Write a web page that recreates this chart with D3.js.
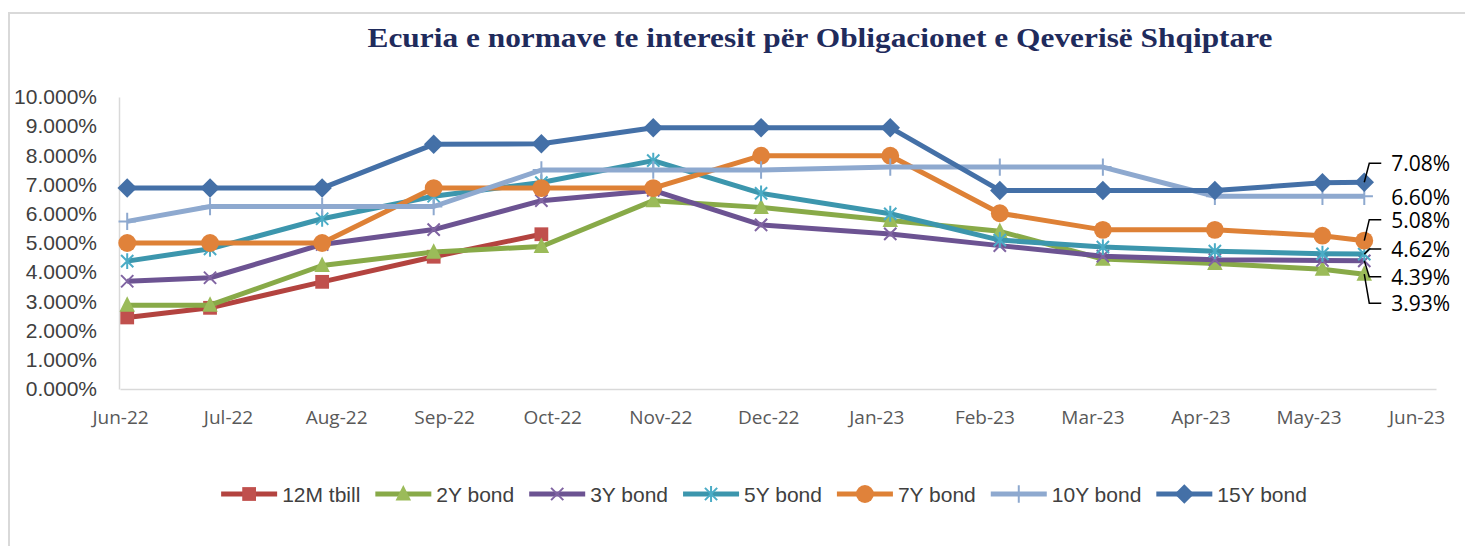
<!DOCTYPE html>
<html>
<head>
<meta charset="utf-8">
<script src="https://cdn.jsdelivr.net/npm/d3@7"></script>
<style>
  body { margin: 0; background: #fff; }
  svg { display: block; }
</style>
</head>
<body>
<script>
// Chart values (percent)
const months = ['Jun-22', 'Jul-22', 'Aug-22', 'Sep-22', 'Oct-22', 'Nov-22', 'Dec-22',
    'Jan-23', 'Feb-23', 'Mar-23', 'Apr-23', 'May-23', 'Jun-23']
const dates = ['2022-06-03', '2022-06-26', '2022-07-28', '2022-08-29', '2022-09-28', '2022-10-30',
    '2022-11-29', '2023-01-05', '2023-02-05', '2023-03-04', '2023-04-05', '2023-05-05', '2023-05-17']
const tbill12m = [2.45, 2.78, 3.67, 4.53, 5.30]
const bond2y = [2.87, 2.87, 4.23, 4.69, 4.88, 6.45, 6.22, 5.77, 5.40, 4.45, 4.30, 4.10, 3.93]
const bond3y = [3.69, 3.81, 4.95, 5.46, 6.45, 6.80, 5.62, 5.31, 4.91, 4.55, 4.43, 4.40, 4.39]
const bond5y = [4.38, 4.80, 5.83, 6.60, 7.07, 7.82, 6.70, 6.00, 5.10, 4.86, 4.72, 4.63, 4.62]
const bond7y = [5.00, 5.00, 5.00, 6.88, 6.88, 6.88, 7.99, 7.99, 6.02, 5.45, 5.45, 5.25, 5.08]
const bond10y = [5.74, 6.25, 6.25, 6.25, 7.50, 7.50, 7.50, 7.60, 7.60, 7.60, 6.60, 6.60, 6.60]
const bond15y = [6.88, 6.88, 6.88, 8.38, 8.40, 8.95, 8.95, 8.95, 6.80, 6.80, 6.80, 7.06, 7.08]
const seriesNames = ['12M tbill', '2Y bond', '3Y bond', '5Y bond', '7Y bond', '10Y bond', '15Y bond']
const yTicks = [0, 0.01, 0.02, 0.03, 0.04, 0.05, 0.06, 0.07, 0.08, 0.09, 0.10]

const title = 'Ecuria e normave te interesit për Obligacionet e Qeverisë Shqiptare'

// custom marker shapes for d3.symbol
const symDiamond = { draw(c, s) { const r = Math.sqrt(s) / 2; c.moveTo(0, -r); c.lineTo(r, 0); c.lineTo(0, r); c.lineTo(-r, 0); c.closePath() } }
const symTriangle = { draw(c, s) { const r = Math.sqrt(s) / 2; c.moveTo(0, -r * 1.15); c.lineTo(r, r * 0.85); c.lineTo(-r, r * 0.85); c.closePath() } }
const symX = { draw(c, s) { const r = Math.sqrt(s) / 2; c.moveTo(-r, -r); c.lineTo(r, r); c.moveTo(-r, r); c.lineTo(r, -r) } }
const symStar = { draw(c, s) { const r = Math.sqrt(s) / 2; c.moveTo(-r, -r); c.lineTo(r, r); c.moveTo(-r, r); c.lineTo(r, -r); c.moveTo(0, -r * 1.3); c.lineTo(0, r * 1.3) } }
const symPlus = { draw(c, s) { const r = Math.sqrt(s) / 2; c.moveTo(0, -r); c.lineTo(0, r); c.moveTo(-r, 0); c.lineTo(r, 0) } }

// styles per series, same order as seriesNames
const styles = [
    { line: '#b3433f', mark: '#c0504d', type: d3.symbolSquare, size: 190, fill: true },
    { line: '#88aa48', mark: '#9bbb59', type: symTriangle, size: 240, fill: true },
    { line: '#6c5392', mark: '#8064a2', type: symX, size: 150, fill: false },
    { line: '#3c96ad', mark: '#4bacc6', type: symStar, size: 150, fill: false },
    { line: '#de8136', mark: '#e0823a', type: d3.symbolCircle, size: 250, fill: true },
    { line: '#8ea9cf', mark: '#8ea9cf', type: symPlus, size: 300, fill: false },
    { line: '#4470a7', mark: '#4470a7', type: symDiamond, size: 380, fill: true }
]
// data label offsets (px) for the last point: [series index, dy, leader?]
const labelLayout = [[6, -19, true], [5, 1, false], [4, -21, true], [3, -5, true], [2, 16, true], [1, 29, true]]

const allValues = [tbill12m, bond2y, bond3y, bond5y, bond7y, bond10y, bond15y]

// fractional month position since Jun-22
const parse = d3.timeParse('%Y-%m-%d')
const start = new Date(2022, 5, 1)
function monthPos(s) {
    const d = parse(s)
    const m = d3.timeMonth.floor(d)
    const next = d3.timeMonth.offset(m, 1)
    return d3.timeMonth.count(start, m) + (d - m) / (next - m)
}

const series = seriesNames.map((name, i) => ({
    name,
    style: styles[i],
    points: allValues[i].map((v, j) => ({ x: monthPos(dates[j]), v: v / 100 }))
}))

const svg = d3.select('body').append('svg')
    .attr('width', 1465)
    .attr('height', 546)

svg.append('rect')
    .attr('x', 9).attr('y', 13)
    .attr('width', 1480).attr('height', 560)
    .attr('fill', 'none')
    .attr('stroke', '#d9d9d9')
    .attr('stroke-width', 2)

svg.append('text')
    .attr('x', 820).attr('y', 38)
    .attr('text-anchor', 'middle')
    .attr('dominant-baseline', 'central')
    .attr('textLength', 905)
    .attr('lengthAdjust', 'spacingAndGlyphs')
    .style('font-family', '"Liberation Serif", serif')
    .style('font-weight', 'bold')
    .style('font-size', '27px')
    .style('fill', '#1f2b5c')
    .text(title)

const xScale = d3.scaleLinear()
    .domain([0, 12.18])
    .range([120, 1436])

const yScale = d3.scaleLinear()
    .domain([0, 0.10])
    .range([389, 97])

// axes
const xAxis = svg.append('g')
    .attr('transform', `translate(0, ${yScale(0)})`)
    .call(d3.axisBottom(xScale).tickValues(d3.range(months.length)).tickFormat(i => months[i]).tickSize(0).tickPadding(22))
xAxis.select('.domain').attr('stroke', '#d9d9d9').attr('stroke-width', 1.5)
xAxis.selectAll('text')
    .style('font-family', '"Open Sans", sans-serif')
    .style('font-size', '19px')
    .style('fill', '#595959')

const yAxis = svg.append('g')
    .attr('transform', `translate(${xScale(0) - 1}, 0)`)
    .call(d3.axisLeft(yScale).tickValues(yTicks).tickFormat(d3.format('.3%')).tickSize(0).tickPadding(22))
yAxis.select('.domain').attr('stroke', '#d9d9d9').attr('stroke-width', 1.5)
yAxis.selectAll('text')
    .style('font-family', '"Liberation Sans", Arial, sans-serif')
    .style('font-size', '21px')
    .style('fill', '#404040')

// lines and markers
const line = d3.line()
    .x(d => xScale(d.x))
    .y(d => yScale(d.v))

function drawMarker(sel, st) {
    sel.attr('d', d3.symbol().type(st.type).size(st.size))
        .attr('fill', st.fill ? st.mark : 'none')
        .attr('stroke', st.mark)
        .attr('stroke-width', st.fill ? 0 : 2)
}

series.forEach(s => {
    const g = svg.append('g')
    g.append('path')
        .datum(s.points)
        .attr('fill', 'none')
        .attr('stroke', s.style.line)
        .attr('stroke-width', 5)
        .attr('stroke-linejoin', 'round')
        .attr('d', line)
    g.selectAll('path.mk')
        .data(s.points)
        .join('path')
        .attr('class', 'mk')
        .attr('transform', d => `translate(${xScale(d.x)}, ${yScale(d.v)})`)
        .call(drawMarker, s.style)
})

// data labels on last point
labelLayout.forEach(([i, dy, leader]) => {
    const p = series[i].points[series[i].points.length - 1]
    const px = xScale(p.x), py = yScale(p.v)
    const ly = py + dy
    if (leader) {
        svg.append('path')
            .attr('d', `M${px},${py}L${px + 5},${ly}H${px + 17}`)
            .attr('fill', 'none')
            .attr('stroke', '#000')
            .attr('stroke-width', 1.5)
    }
    svg.append('text')
        .attr('x', px + 27)
        .attr('y', ly)
        .attr('dominant-baseline', 'central')
        .style('font-family', '"Open Sans", sans-serif')
        .style('font-size', '21px')
        .style('fill', '#000')
        .text(d3.format('.2%')(p.v))
})

// legend
const legend = svg.append('g').attr('transform', 'translate(0, 494)')
let lx = 0
series.forEach(s => {
    const g = legend.append('g')
    g.append('line')
        .attr('x1', 0).attr('x2', 56)
        .attr('stroke', s.style.line)
        .attr('stroke-width', 5)
    g.append('path')
        .attr('transform', 'translate(28, 0)')
        .call(drawMarker, s.style)
    const t = g.append('text')
        .attr('x', 61)
        .attr('dominant-baseline', 'central')
        .style('font-family', '"Liberation Sans", Arial, sans-serif')
        .style('font-size', '21px')
        .style('fill', '#404040')
        .text(s.name)
    const w = 61 + t.node().getComputedTextLength()
    g.attr('transform', `translate(${lx}, 0)`)
    lx += w + 15
})
const legendW = lx - 15
legend.attr('transform', `translate(${764 - legendW / 2}, 494)`)
</script>
</body>
</html>
